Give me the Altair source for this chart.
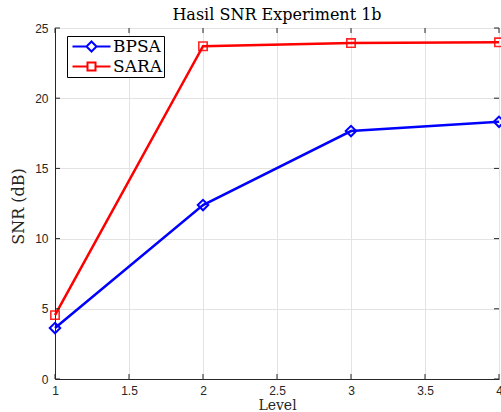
import altair as alt
import pandas as pd

levels = [1, 2, 3, 4]
bpsa = [3.63, 12.39, 17.66, 18.32]
sara = [4.55, 23.70, 23.93, 23.98]
series_names = ["BPSA", "SARA"]
colors = ["#0000FF", "#FF0000"]
x_ticks = [1, 1.5, 2, 2.5, 3, 3.5, 4]
y_ticks = [0, 5, 10, 15, 20, 25]

rows = []
for name, vals in zip(series_names, [bpsa, sara]):
    for lv, v in zip(levels, vals):
        rows.append({"Level": lv, "SNR": v, "Metode": name})
df = pd.DataFrame(rows)
xt = pd.DataFrame({"v": x_ticks})
yt = pd.DataFrame({"v": y_ticks})

tick_font = "Liberation Sans"
serif = "DejaVu Serif"
axis_col = "#262626"

legend_paths = [
    "M-1,0L1.8,0M3.8,0L6.6,0M2.8,-1L3.8,0L2.8,1L1.8,0Z",
    "M-1,0L2,0M3.6,0L6.6,0M2,-0.8L3.6,-0.8L3.6,0.8L2,0.8Z",
]

xscale = alt.Scale(domain=[1, 4], nice=False, zero=False)
yscale = alt.Scale(domain=[0, 25], nice=False)
cscale = alt.Scale(domain=series_names, range=colors)

x_axis = alt.Axis(values=x_ticks, format=".1~f", title="Level", grid=True,
                  gridColor="#e3e3e3", domainColor=axis_col, ticks=False,
                  labelPadding=6, labelFont=tick_font, labelFontSize=12,
                  labelColor=axis_col, titleFont=serif, titleFontSize=14,
                  titleFontWeight="normal", titleColor=axis_col, titlePadding=2,
                  labelFlush=False, labelOverlap=False)
y_axis = alt.Axis(values=y_ticks, format="d", title="SNR (dB)", grid=True,
                  gridColor="#e3e3e3", domainColor=axis_col, ticks=False,
                  labelPadding=7, labelFont=tick_font, labelFontSize=12,
                  labelColor=axis_col, titleFont=serif, titleFontSize=16,
                  titleFontWeight="normal", titleColor=axis_col,
                  titleX=-37, titleY=178, titleAngle=-90,
                  titleAlign="center", titleBaseline="middle",
                  labelFlush=False, labelOverlap=False)

base = alt.Chart(df)

lines = base.mark_line(strokeWidth=2.5).encode(
    x=alt.X("Level:Q", scale=xscale, axis=x_axis),
    y=alt.Y("SNR:Q", scale=yscale, axis=y_axis),
    color=alt.Color("Metode:N", scale=cscale),
)

legend_pts = base.mark_point(opacity=0, size=100, filled=False).encode(
    x=alt.X("Level:Q", scale=xscale),
    y=alt.Y("SNR:Q", scale=yscale),
    color=alt.Color("Metode:N", scale=cscale,
                    legend=alt.Legend(
                        title=None, orient="none", legendX=12, legendY=8,
                        padding=2, rowPadding=1, symbolSize=100,
                        symbolStrokeWidth=2, symbolOpacity=1, labelOffset=27,
                        labelFont=serif, labelFontSize=17, labelColor="black",
                        strokeColor="black", fillColor="white")),
    shape=alt.Shape("Metode:N", scale=alt.Scale(domain=series_names, range=legend_paths)),
)

pts_b = base.transform_filter(alt.datum.Metode == "BPSA").mark_point(
    shape="diamond", size=110, filled=False, strokeWidth=2, color="#0000FF", opacity=1
).encode(x=alt.X("Level:Q", scale=xscale), y=alt.Y("SNR:Q", scale=yscale))
pts_s = base.transform_filter(alt.datum.Metode == "SARA").mark_point(
    shape="square", size=70, filled=False, strokeWidth=1.6, color="#FF0000", opacity=0.85
).encode(x=alt.X("Level:Q", scale=xscale), y=alt.Y("SNR:Q", scale=yscale))

tick_style = dict(color=axis_col, strokeWidth=1)
t_bottom = alt.Chart(xt).mark_rule(**tick_style).encode(
    x=alt.X("v:Q", scale=xscale), y=alt.value(351), y2=alt.value(346))
t_top = alt.Chart(xt).mark_rule(**tick_style).encode(
    x=alt.X("v:Q", scale=xscale), y=alt.value(0), y2=alt.value(5))
t_left = alt.Chart(yt).mark_rule(**tick_style).encode(
    y=alt.Y("v:Q", scale=yscale), x=alt.value(0), x2=alt.value(5))
t_right = alt.Chart(yt).mark_rule(**tick_style).encode(
    y=alt.Y("v:Q", scale=yscale), x=alt.value(444), x2=alt.value(439))

chart = alt.layer(lines, t_bottom, t_top, t_left, t_right, pts_b, pts_s, legend_pts).properties(
    width=444, height=351,
    title=alt.TitleParams("Hasil SNR Experiment 1b", font=serif, fontSize=16,
                          fontWeight="normal", color="black", offset=-1, anchor="middle"),
    autosize=alt.AutoSizeParams(type="none"),
    padding={"left": 55, "top": 28, "right": 2, "bottom": 33},
).configure_view(stroke=axis_col, strokeWidth=1).configure(background="white")

chart.save("out.html", embed_options={"renderer": "svg", "actions": False})
